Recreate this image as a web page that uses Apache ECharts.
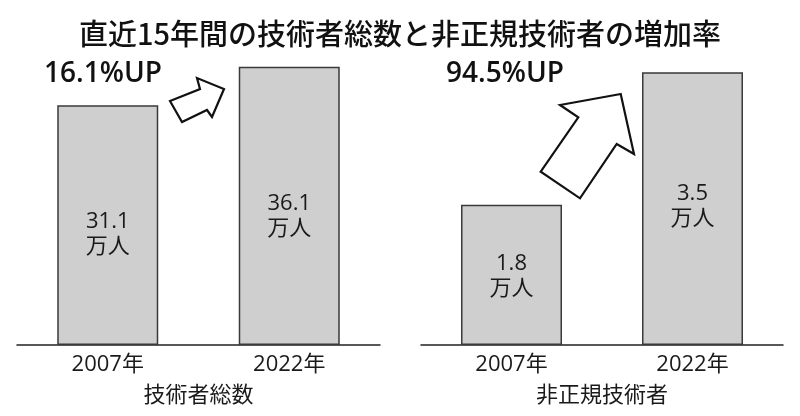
<!DOCTYPE html>
<html>
<head>
<meta charset="utf-8">
<script src="https://cdn.jsdelivr.net/npm/echarts@6/dist/echarts.min.js"></script>
<style>
html,body{margin:0;padding:0;background:#fff;}
#c{width:800px;height:416px;}
</style>
</head>
<body>
<div id="c"></div>
<script>
const titleText = '直近15年間の技術者総数と非正規技術者の増加率';
const years = ['2007年', '2022年'];
const totalEngineers = [31.1, 36.1];
const nonRegularEngineers = [1.8, 3.5];
const groupNames = ['技術者総数', '非正規技術者'];
const increaseTexts = ['16.1%UP', '94.5%UP'];
const unit = '万人';

const FONT = '"Open Sans", "Noto Sans CJK JP", sans-serif';
const labelOffsets = [[[0, 9], [0, 10]], [[0, 1], [0, -2]]];

function barSeries(idx, values) {
  return {
    type: 'bar',
    xAxisIndex: idx,
    yAxisIndex: idx,
    barWidth: 101,
    data: values.map((v, i) => ({
      value: v,
      label: { offset: labelOffsets[idx][i] }
    })),
    itemStyle: { color: '#cfcfcf', borderColor: '#3a3a3a', borderWidth: 1.5 },
    label: {
      show: true,
      position: 'inside',
      fontFamily: FONT,
      fontSize: 22,
      lineHeight: 25,
      color: '#1a1a1a',
      formatter: p => p.value + '\n' + unit
    },
    silent: true
  };
}

function xAx(idx) {
  return {
    type: 'category',
    gridIndex: idx,
    data: years,
    axisLine: { lineStyle: { color: '#222', width: 1.5 } },
    axisTick: { show: false },
    axisLabel: { fontFamily: FONT, fontSize: 22, color: '#1a1a1a', margin: 9 },
    name: groupNames[idx],
    nameLocation: 'middle',
    nameGap: 40,
    nameTextStyle: { fontFamily: FONT, fontSize: 22, color: '#1a1a1a' }
  };
}

function yAx(idx, max) {
  return {
    type: 'value',
    gridIndex: idx,
    min: 0,
    max: max,
    show: false,
    splitLine: { show: false }
  };
}

const chart = echarts.init(document.getElementById('c'));
chart.setOption({
  backgroundColor: '#fff',
  animation: false,
  title: {
    text: titleText,
    left: 'center',
    top: 14,
    textStyle: { fontFamily: '"Noto Sans CJK JP", sans-serif', fontSize: 29, fontWeight: 500, color: '#111' }
  },
  grid: [
    { left: 17, width: 363, top: 36.6, bottom: 71 },
    { left: 421, width: 362, top: 33.4, bottom: 71 }
  ],
  xAxis: [xAx(0), xAx(1)],
  yAxis: [yAx(0, 40), yAx(1, 4)],
  series: [barSeries(0, totalEngineers), barSeries(1, nonRegularEngineers)],
  graphic: [
    {
      type: 'text', left: 44, top: 60,
      style: { text: increaseTexts[0], font: '600 28px ' + FONT, fill: '#111' }
    },
    {
      type: 'text', left: 446, top: 60,
      style: { text: increaseTexts[1], font: '600 28px ' + FONT, fill: '#111' }
    },
    {
      type: 'polygon',
      shape: { points: [[170, 101], [182, 122], [207, 110], [212, 117], [224, 89], [197, 78], [200, 89]] },
      style: { fill: '#fff', stroke: '#111', lineWidth: 2.2, lineJoin: 'miter' }
    },
    {
      type: 'polygon',
      shape: { points: [[620.7, 94], [560, 105], [578.3, 117.3], [540.7, 171.7], [580, 198.3], [616.7, 144], [634, 154]] },
      style: { fill: '#fff', stroke: '#111', lineWidth: 2.2, lineJoin: 'miter' }
    }
  ]
});
</script>
</body>
</html>
